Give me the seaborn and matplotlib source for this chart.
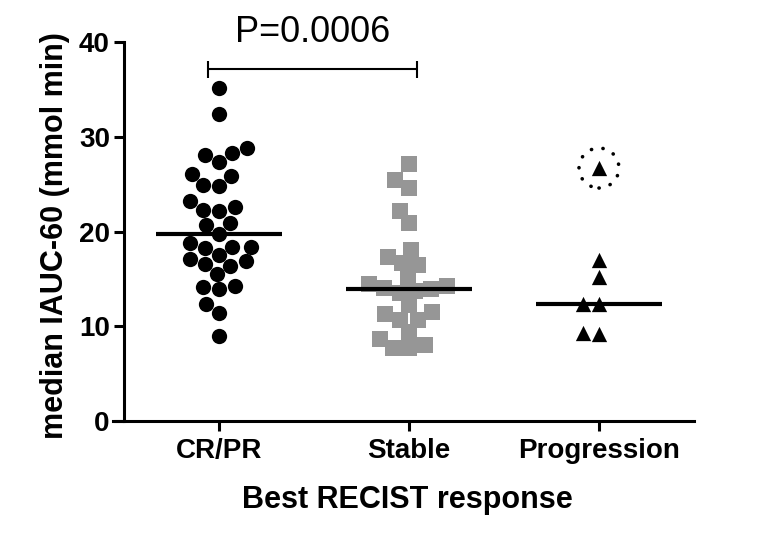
import numpy as np
import pandas as pd
import matplotlib
matplotlib.use("Agg")
import matplotlib.pyplot as plt
import seaborn as sns

# Median IAUC-60 per patient, grouped by best RECIST response
groups = ["CR/PR", "Stable", "Progression"]
cr_pr = [35.1, 32.4, 28.8, 28.3, 28.1, 27.3, 26.1, 25.9, 24.9, 24.8, 23.2,
         22.6, 22.3, 22.2, 20.9, 20.7, 19.7, 18.75, 18.4, 18.4, 18.3, 17.5,
         17.1, 16.9, 16.6, 16.4, 15.5, 14.2, 14.1, 13.9, 12.3, 11.4, 9.0]
stable = [27.1, 25.4, 24.6, 22.2, 20.9, 18.05, 17.3, 16.7, 16.5, 15.2, 14.5,
          14.2, 14.0, 13.9, 13.75, 13.5, 12.2, 11.5, 11.3, 10.7, 10.7, 9.4,
          8.65, 8.05, 7.7, 7.7]
progression = [26.7, 17.0, 15.2, 12.4, 12.4, 9.25, 9.15]
circled_group = "Progression"
circled_value = 26.7
p_label = "P=0.0006"
y_ticks = [0, 10, 20, 30, 40]

df = pd.DataFrame({
    "group": ["CR/PR"] * len(cr_pr) + ["Stable"] * len(stable)
             + ["Progression"] * len(progression),
    "value": cr_pr + stable + progression,
})

sns.set_style("ticks")
plt.rcParams["font.family"] = ["Liberation Sans", "DejaVu Sans"]
plt.rcParams["font.weight"] = "bold"
plt.rcParams["text.color"] = "black"
plt.rcParams["axes.labelcolor"] = "black"
plt.rcParams["xtick.color"] = "black"
plt.rcParams["ytick.color"] = "black"

fig = plt.figure(figsize=(7.67, 5.38), dpi=100)
ax = fig.add_axes([0.1617, 0.2175, 0.7431, 0.7044])

styles = {
    "CR/PR": ("o", "black"),
    "Stable": ("s", "#969696"),
    "Progression": ("^", "black"),
}
for g in groups:
    marker, color = styles[g]
    sns.swarmplot(data=df[df["group"] == g], x="group", y="value", order=groups,
                  marker=marker, color=color, size=11, linewidth=0,
                  ax=ax, zorder=3)

# Median bars
sns.boxplot(data=df, x="group", y="value", order=groups, width=0.665,
            showbox=False, showcaps=False, showfliers=False,
            whiskerprops={"visible": False},
            medianprops={"color": "black", "linewidth": 3,
                         "solid_capstyle": "butt"},
            ax=ax, zorder=4)

# Dotted ring around the outlying progression value
ax.scatter([groups.index(circled_group)], [circled_value], s=28.8 ** 2,
           facecolors="none", edgecolors="black", linewidths=2.6,
           linestyles=[(0, (0.05, 3.2))], capstyle="round", zorder=5)

# Significance bracket between CR/PR and Stable
by, x0, x1 = 37.1, -0.058, 1.043
ax.plot([x0, x1], [by, by], color="black", lw=1.5, clip_on=False,
        solid_capstyle="butt")
ax.vlines([x0, x1], by - 0.85, by + 0.85, color="black", lw=1.5,
          clip_on=False)
ax.text((x0 + x1) / 2, 41.0, p_label, ha="center", va="center",
        fontsize=26, fontweight="normal", color="black", clip_on=False)

ax.set_xlim(-0.5, 2.5)
ax.set_ylim(0, 40)
ax.set_yticks(y_ticks)
sns.despine(ax=ax)
for side in ("left", "bottom"):
    ax.spines[side].set_linewidth(2.2)
    ax.spines[side].set_color("black")
ax.spines["bottom"].set_bounds(-0.558, 2.5)
ax.spines["left"].set_bounds(0, 40)
ax.tick_params(axis="both", length=7.2, width=2.2, direction="out",
               labelsize=20, color="black", labelcolor="black")
ax.tick_params(axis="y", pad=3)
ax.tick_params(axis="x", pad=5)
for lbl in ax.get_xticklabels() + ax.get_yticklabels():
    lbl.set_fontweight("bold")

ax.set_xlabel("Best RECIST response", fontsize=22, fontweight="bold",
              color="black")
ax.set_ylabel("median IAUC-60 (mmol min)", fontsize=22, fontweight="bold",
              color="black")
ax.xaxis.set_label_coords(0.498, -0.168)
ax.yaxis.set_label_coords(-0.095, 0.49)

fig.savefig("out.png", dpi=100, facecolor="white")
